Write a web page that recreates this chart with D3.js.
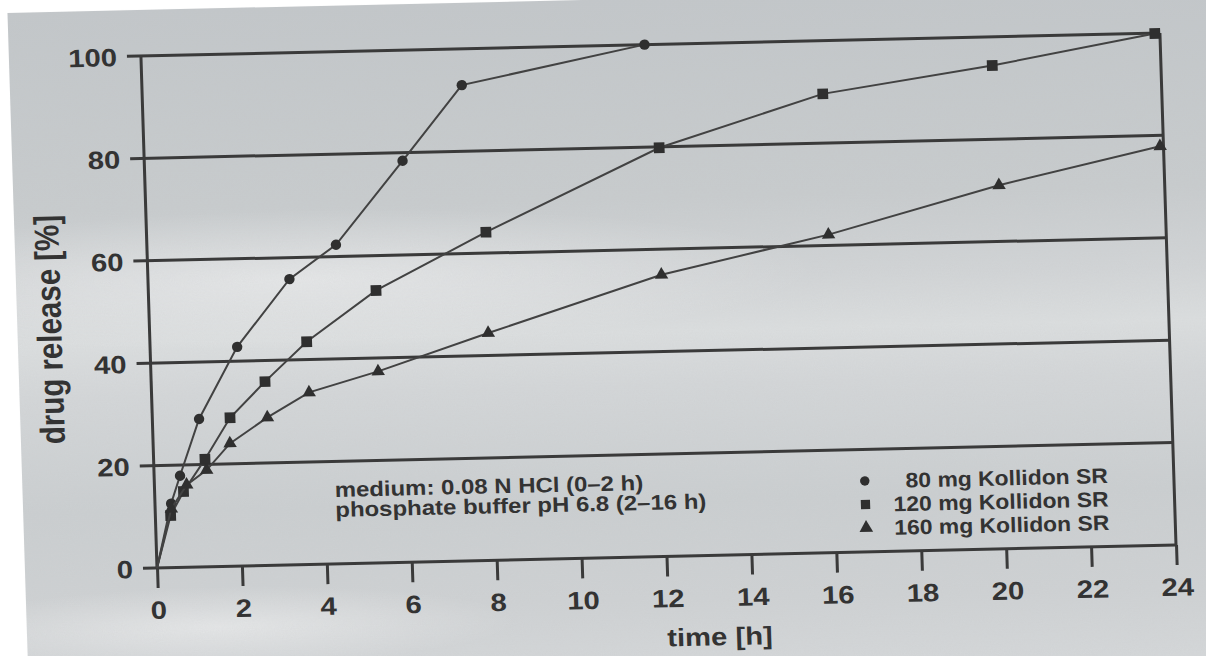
<!DOCTYPE html>
<html><head><meta charset="utf-8">
<script src="https://cdn.jsdelivr.net/npm/d3@7"></script>
<style>body{margin:0;background:#fff;} svg{display:block}</style>
</head><body>
<svg id="chart" width="1206" height="656"></svg>
<script>
// ---- data ----
const seriesNames = ["80 mg Kollidon SR", "120 mg Kollidon SR", "160 mg Kollidon SR"];
const times80    = [0, 0.38, 0.61, 1.10, 2.05, 3.33, 4.45, 6.08, 7.53, 11.86];
const release80  = [0, 12.5, 17.9, 28.9, 42.8, 55.8, 62.3, 78.4, 92.9, 100.0];
const times120   = [0, 0.36, 0.68, 1.21, 1.83, 2.68, 3.69, 5.36, 7.99, 12.13, 16.02, 20.03, 23.88];
const release120 = [0, 10.2, 14.8, 21.0, 29.0, 35.9, 43.5, 53.2, 64.1, 79.8, 89.6, 94.4, 99.9];
const times160   = [0, 0.38, 0.76, 1.24, 1.81, 2.71, 3.71, 5.35, 7.97, 12.09, 16.05, 20.10, 23.92];
const release160 = [0, 11.5, 16.1, 18.9, 24.0, 28.9, 33.6, 37.4, 44.4, 55.0, 62.1, 71.0, 77.9];
const xTicks = [0, 2, 4, 6, 8, 10, 12, 14, 16, 18, 20, 22, 24];
const yTicks = [0, 20, 40, 60, 80, 100];
const xTitle = "time [h]";
const yTitle = "drug release [%]";
const noteLines = ["medium: 0.08 N HCl (0\u20132 h)", "phosphate buffer pH 6.8 (2\u201316 h)"];

// ---- layout ----
const FONT = "'Liberation Sans', Arial, Helvetica, sans-serif";
const INK = "#333";
const SX = 1.17; // horizontal stretch of the scan
const svg = d3.select('#chart');
const defs = svg.append('defs');

const bg = defs.append('linearGradient').attr('id','paper').attr('gradientUnits','userSpaceOnUse')
  .attr('x1',0).attr('y1',-560).attr('x2',0).attr('y2',110);
[[0,'#c3c7ca'],[0.3,'#c8ccce'],[0.42,'#d2d5d7'],[0.5,'#dcdfe0'],[0.58,'#d4d7d9'],[0.75,'#cbcfd1'],[0.9,'#cfd2d4'],[1,'#d5d8da']]
  .forEach(([o,c]) => bg.append('stop').attr('offset',o).attr('stop-color',c));
const glow = defs.append('radialGradient').attr('id','glow');
glow.append('stop').attr('offset',0).attr('stop-color','#ffffff').attr('stop-opacity',0.45);
glow.append('stop').attr('offset',1).attr('stop-color','#ffffff').attr('stop-opacity',0);
const grain = defs.append('filter').attr('id','grain').attr('x',0).attr('y',0).attr('width','100%').attr('height','100%');
grain.append('feTurbulence').attr('type','fractalNoise').attr('baseFrequency',0.9).attr('numOctaves',2).attr('seed',3).attr('result','n');
grain.append('feColorMatrix').attr('type','matrix')
  .attr('values','0 0 0 0 0.5  0 0 0 0 0.5  0 0 0 0 0.5  0 0 0 0.18 0').attr('result','m');
grain.append('feComposite').attr('in','m').attr('in2','SourceGraphic').attr('operator','in');

// sheared frame of the scan
const g = svg.append('g').attr('transform','matrix(1,-0.0226,0.0314,1,157,568)');

g.append('rect').attr('x',-132).attr('y',-558).attr('width',1500).attr('height',800).attr('fill','url(#paper)');
g.append('ellipse').attr('cx',150).attr('cy',-285).attr('rx',520).attr('ry',70).attr('fill','url(#glow)');
g.append('ellipse').attr('cx',60).attr('cy',60).attr('rx',300).attr('ry',40).attr('fill','url(#glow)');
g.append('rect').attr('x',-132).attr('y',-558).attr('width',1500).attr('height',800).attr('fill','#888').attr('filter','url(#grain)');

const x = d3.scaleLinear().domain([0,24]).range([0,1019]);
const y = d3.scaleLinear().domain([0,100]).range([0,-512]);

// gridlines
g.append('g').selectAll('line').data(yTicks).join('line')
  .attr('x1',-14).attr('x2',x(24)).attr('y1',d=>y(d)).attr('y2',d=>y(d))
  .attr('stroke','#3a3a3a').attr('stroke-width',3);
// vertical frame lines
g.append('g').selectAll('line').data([0,24]).join('line')
  .attr('x1',d=>x(d)).attr('x2',d=>x(d)).attr('y1',y(100)).attr('y2',y(0))
  .attr('stroke','#3a3a3a').attr('stroke-width',3);

// axes
const xAxis = g.append('g').call(d3.axisBottom(x).tickValues(xTicks).tickSize(20).tickPadding(13).tickSizeOuter(0));
const yAxis = g.append('g').call(d3.axisLeft(y).tickValues(yTicks).tickSize(0).tickPadding(24).tickSizeOuter(0));
[xAxis, yAxis].forEach(a => {
  a.select('.domain').remove();
  a.selectAll('line').attr('stroke','#3a3a3a').attr('stroke-width',3);
  a.selectAll('text').attr('fill',INK).style('font-family',FONT).style('font-size','25px').style('font-weight','bold');
});
xAxis.selectAll('text').attr('transform',`scale(${SX},1)`);
yAxis.selectAll('text').attr('x',-24/SX).attr('dy','0.36em').attr('transform',`scale(${SX},1)`);

// titles
g.append('text').text(xTitle).attr('transform',`translate(${x(13.2)},90) scale(${SX},1)`)
  .attr('text-anchor','middle').attr('fill',INK).style('font-family',FONT).style('font-size','25px').style('font-weight','bold');
g.append('text').text(yTitle).attr('transform',`translate(-88,${y(47)}) scale(${SX},1) rotate(-90)`)
  .attr('text-anchor','middle').attr('fill',INK).style('font-family',FONT).style('font-size','29.5px').style('font-weight','bold');

// data
const series = [
  {name: seriesNames[0], t: times80,  v: release80,  sym: d3.symbolCircle,   size: 85,  lsize: 70},
  {name: seriesNames[1], t: times120, v: release120, sym: d3.symbolSquare,   size: 115, lsize: 85},
  {name: seriesNames[2], t: times160, v: release160, sym: d3.symbolTriangle, size: 78,  lsize: 80}
];
const line = d3.line().x(d=>x(d[0])).y(d=>y(d[1]));
series.forEach(s => {
  const pts = s.t.map((t,i)=>[t, s.v[i]]);
  g.append('path').attr('d', line(pts)).attr('fill','none').attr('stroke','#424242').attr('stroke-width',2);
  g.append('g').selectAll('path').data(pts.slice(1)).join('path')
    .attr('d', d3.symbol().type(s.sym).size(s.size)())
    .attr('transform', d=>`translate(${x(d[0])},${y(d[1])})`)
    .attr('fill','#2f2f2f');
});

// note
g.append('g').selectAll('text').data(noteLines).join('text').text(d=>d)
  .attr('transform',(d,i)=>`translate(180,${-67 + i*20}) scale(1.14,1)`)
  .attr('fill',INK).style('font-family',FONT).style('font-size','21px').style('font-weight','bold');

// legend
const leg = g.append('g');
series.forEach((s,i) => {
  const cy = -71 + i*23.5;
  leg.append('path').attr('d', d3.symbol().type(s.sym).size(s.lsize)())
    .attr('transform',`translate(710,${cy})`).attr('fill','#2f2f2f');
  leg.append('text').text(s.name).attr('transform',`translate(953,${cy+7.5}) scale(1.09,1)`)
    .attr('text-anchor','end').attr('fill',INK).style('font-family',FONT).style('font-size','21px').style('font-weight','bold');
});
</script>
</body></html>
